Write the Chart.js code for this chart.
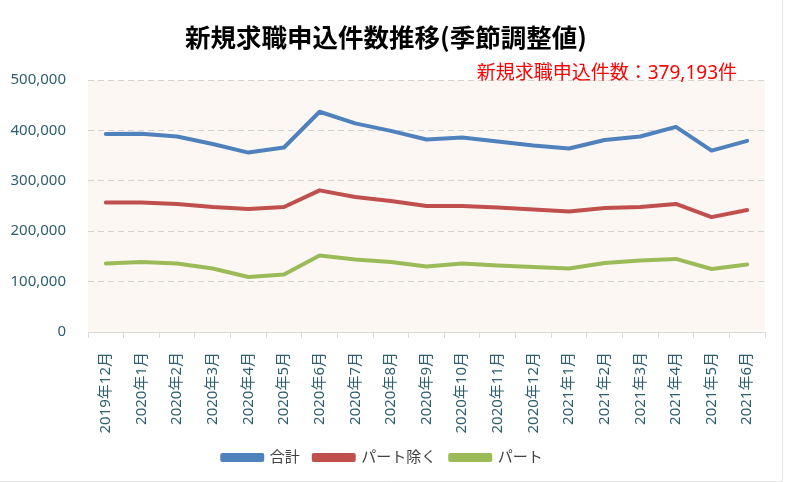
<html>
<head>
    <meta charset="utf-8">
    <title>新規求職申込件数推移</title>
    <script src="https://cdn.jsdelivr.net/npm/chart.js@4.4.1/dist/chart.umd.min.js"></script>
    <style>
        body { margin: 0; background: #fff; }
        .wrap { width: 785px; height: 482px; position: relative; }
    </style>
</head>
<body>
<div class="wrap">
    <canvas id="myChart" width="785" height="482"></canvas>
</div>
<script>
    const months = ['2019年12月', '2020年1月', '2020年2月', '2020年3月', '2020年4月', '2020年5月',
        '2020年6月', '2020年7月', '2020年8月', '2020年9月', '2020年10月', '2020年11月',
        '2020年12月', '2021年1月', '2021年2月', '2021年3月', '2021年4月', '2021年5月', '2021年6月'];
    const total = [393000, 393500, 388000, 373000, 356000, 366000, 437000, 414000, 399000, 382000,
        386000, 378000, 370000, 364000, 381000, 388000, 407000, 360000, 379193];
    const nonPart = [257000, 257000, 254000, 248000, 244000, 248000, 281000, 268000, 260000, 250000,
        250000, 247000, 243000, 239000, 246000, 248000, 254000, 228000, 242000];
    const part = [136000, 139000, 136000, 126000, 109000, 114000, 152000, 144000, 139000, 130000,
        136000, 132000, 129000, 126000, 137000, 142000, 145000, 125000, 134000];
    const yTicks = [0, 100000, 200000, 300000, 400000, 500000];

    const titleText = '新規求職申込件数推移(季節調整値)';
    const noteText = '新規求職申込件数：' + total[total.length - 1].toLocaleString('en-US') + '件';

    const teal = '#2f5f6e';
    const cjk = '"Noto Sans", "Noto Sans CJK JP", sans-serif';

    // background of plot area + title + red note
    const decor = {
        id: 'decor',
        beforeDraw(chart) {
            const { ctx, chartArea: a } = chart;
            ctx.save();
            ctx.fillStyle = '#fdf7f3';
            ctx.fillRect(a.left, a.top, a.right - a.left, a.bottom - a.top);
            ctx.restore();
        },
        afterDraw(chart) {
            const ctx = chart.ctx;
            ctx.save();
            ctx.fillStyle = '#000';
            ctx.font = 'bold 25.5px "Noto Sans CJK JP", sans-serif';
            ctx.textAlign = 'center';
            ctx.textBaseline = 'middle';
            ctx.fillText(titleText, 386, 37);
            ctx.fillStyle = '#ff0000';
            ctx.font = '19px ' + cjk;
            ctx.textAlign = 'right';
            ctx.fillText(noteText, 737, 74);
            // faint frame on right and bottom
            ctx.strokeStyle = '#e6e6e6';
            ctx.lineWidth = 1;
            ctx.beginPath();
            ctx.moveTo(782.5, 0);
            ctx.lineTo(782.5, 481.5);
            ctx.lineTo(0, 481.5);
            ctx.stroke();
            ctx.restore();
        }
    };

    const ctx = document.getElementById('myChart').getContext('2d');
    const chart = new Chart(ctx, {
        type: 'line',
        data: {
            labels: months,
            datasets: [
                { label: '合計', data: total, borderColor: '#4f81bd', backgroundColor: '#4f81bd' },
                { label: 'パート除く', data: nonPart, borderColor: '#c0504d', backgroundColor: '#c0504d' },
                { label: 'パート', data: part, borderColor: '#9bbb59', backgroundColor: '#9bbb59' }
            ]
        },
        options: {
            responsive: false,
            animation: false,
            layout: { padding: { top: 80, left: 0, right: 20, bottom: 7 } },
            elements: {
                line: { borderWidth: 4, tension: 0, borderCapStyle: 'round', borderJoinStyle: 'round' },
                point: { radius: 0, hoverRadius: 0 }
            },
            scales: {
                x: {
                    offset: true,
                    grid: { offset: true, drawOnChartArea: false, drawTicks: true, tickLength: 6, color: '#d9d9d9' },
                    border: { display: true, color: '#d9d9d9', width: 1 },
                    ticks: {
                        minRotation: 90, maxRotation: 90, autoSkip: false, padding: 14,
                        color: teal, font: { family: cjk, size: 15 }
                    },
                    afterFit: s => { s.height = 104; }
                },
                y: {
                    min: 0, max: 500000,
                    afterBuildTicks: s => { s.ticks = yTicks.map(v => ({ value: v })); },
                    grid: { color: '#d2d2d2', drawTicks: false, lineWidth: 1 },
                    border: { display: false, dash: [6, 4] },
                    ticks: {
                        padding: 22, color: teal, font: { family: cjk, size: 15 },
                        callback: v => v.toLocaleString('en-US')
                    },
                    afterFit: s => { s.width = 88; }
                }
            },
            plugins: {
                legend: {
                    position: 'bottom',
                    labels: {
                        boxWidth: 40, boxHeight: 5, padding: 14,
                        color: '#404040', font: { family: cjk, size: 15 }
                    }
                },
                tooltip: { enabled: false }
            }
        },
        plugins: [decor]
    });
</script>
</body>
</html>
